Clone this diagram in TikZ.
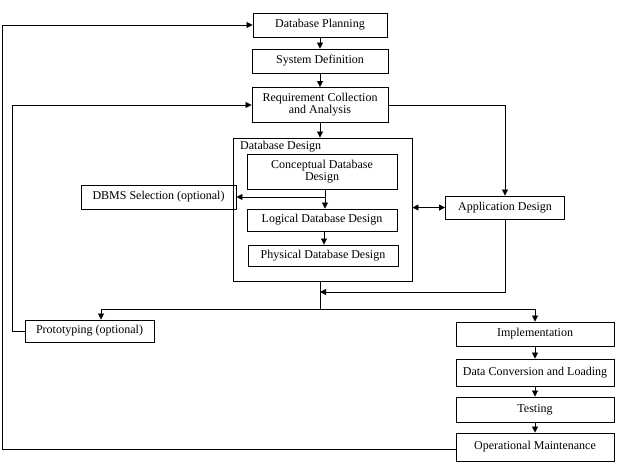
\documentclass[tikz,border=0pt]{standalone}
\usepackage{fontspec}
\setmainfont{Liberation Serif}
\usetikzlibrary{arrows.meta,calc}
\begin{document}
\begin{tikzpicture}[x=1pt,y=-1pt,
  box/.style={draw,line width=0.9pt,inner sep=0pt,align=center,font=\fontsize{12}{12}\selectfont},
  conn/.style={line width=0.8pt,-{Triangle[length=6pt,width=6pt]}},
  dconn/.style={line width=0.8pt,{Triangle[length=6pt,width=6pt]}-{Triangle[length=6pt,width=6pt]}},
  plain/.style={line width=0.8pt}]
\useasboundingbox (0,0) rectangle (632,466);
% outer design box
\node[draw,line width=0.9pt,minimum width=179pt,minimum height=143pt,inner sep=0pt] (dd) at (322.5,209.5) {};
\node[anchor=base west,inner sep=0pt,font=\fontsize{12}{12}\selectfont] (ddl) at (240,149) {Database Design};
% boxes
\node[box,minimum width=134pt,minimum height=24pt] (dp) at (320,25) {Database Planning};
\node[box,minimum width=136pt,minimum height=24pt] (sd) at (320,61) {System Definition};
\node[box,minimum width=136pt,minimum height=35pt] (rc) at (320,105) {Requirement Collection\\and Analysis};
\node[box,minimum width=150pt,minimum height=35pt] (cd) at (322,171.5) {Conceptual Database\\Design};
\node[box,minimum width=150pt,minimum height=22pt] (ld) at (322,220) {Logical Database Design};
\node[box,minimum width=150pt,minimum height=21pt] (pd) at (323,255.5) {Physical Database Design};
\node[box,minimum width=155pt,minimum height=24pt] (dbms) at (158.5,197) {DBMS Selection (optional)};
\node[box,minimum width=119pt,minimum height=23pt] (ad) at (505,207.5) {Application Design};
\node[box,minimum width=129pt,minimum height=22pt] (pt) at (89.5,331) {Prototyping (optional)};
\node[box,minimum width=158pt,minimum height=24pt] (im) at (535,334) {Implementation};
\node[box,minimum width=158pt,minimum height=27pt] (dc) at (535,372.5) {Data Conversion and Loading};
\node[box,minimum width=158pt,minimum height=25pt] (ts) at (535,409.5) {Testing};
\node[box,minimum width=158pt,minimum height=28pt] (om) at (535,447) {Operational Maintenance};
% helper coordinates
\coordinate (ol) at (2,0);
\coordinate (pl2) at (12,0);
\coordinate (j1) at (325,197);
\coordinate (m1) at (320,292);
\coordinate (split) at (320,309);
\coordinate (pl) at (101,309);
\coordinate (pr) at (535,309);
% main column
\draw[conn] (dp.south) -- (sd.north);
\draw[conn] (sd.south) -- (rc.north);
\draw[conn] (rc.south) -- (rc.south |- dd.north);
\draw[conn] ([xshift=3pt]cd.south) -- ([xshift=3pt]ld.north);
\draw[conn] (j1) -- (dbms.east);
\draw[conn] ([xshift=2pt]ld.south) -- ([xshift=2pt]ld.south |- pd.north);
\draw[dconn] (dd.east |- ad.west) -- (ad.west);
\draw[conn] (rc.east) -- (rc.east -| ad.north) -- (ad.north);
\draw[conn] (ad.south) |- (m1);
\draw[plain] (m1 |- dd.south) -- (split);
\draw[plain] (pl) -- (pr);
\draw[conn] (pl) -- (pl |- pt.north);
\draw[conn] (pr) -- (im.north);
\draw[conn] (im.south) -- (dc.north);
\draw[conn] (dc.south) -- (ts.north);
\draw[conn] (ts.south) -- (om.north);
% feedback loops
\draw[conn] ([yshift=-2pt]om.west) -- ([yshift=-2pt]om.west -| ol) -- (ol |- dp.west) -- (dp.west);
\draw[conn] (pt.west) -- (pt.west -| pl2) -- (pl2 |- rc.west) -- (rc.west);
\end{tikzpicture}
\end{document}
